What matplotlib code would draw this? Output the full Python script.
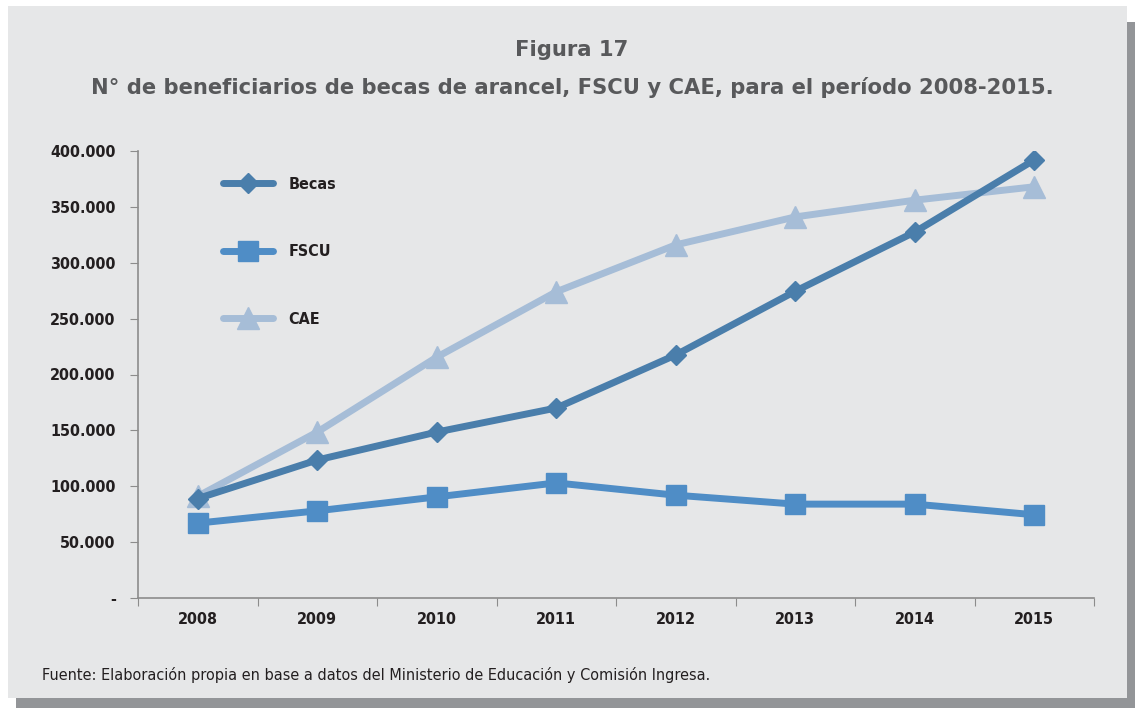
import matplotlib
matplotlib.use("Agg")
import matplotlib.pyplot as plt
from matplotlib.patches import Rectangle

# Datos
years = ["2008", "2009", "2010", "2011", "2012", "2013", "2014", "2015"]
becas = [89000, 123500, 148500, 170000, 217500, 274500, 327500, 392000]
fscu = [67000, 78000, 90500, 103000, 92000, 84000, 84000, 74500]
cae = [91000, 148500, 215500, 274000, 316000, 341000, 356000, 368000]
yticks = [0, 50000, 100000, 150000, 200000, 250000, 300000, 350000, 400000]
ylabels = ["-", "50.000", "100.000", "150.000", "200.000", "250.000",
           "300.000", "350.000", "400.000"]

bg = "#E6E7E8"
W, H = 1135, 708
fig = plt.figure(figsize=(W / 100, H / 100), dpi=100)
fig.patch.set_facecolor("white")

# sombra y tarjeta
fig.patches.append(Rectangle((16 / W, 0), (W - 16) / W, (H - 22) / H,
                             transform=fig.transFigure, facecolor="#939598",
                             edgecolor="none", zorder=-2))
fig.patches.append(Rectangle((8 / W, 10 / H), (1127 - 8) / W, (702 - 10) / H,
                             transform=fig.transFigure, facecolor=bg,
                             edgecolor="none", zorder=-1))

ax = fig.add_axes([138 / W, (H - 598) / H, (1094 - 138) / W, (598 - 151) / H])
ax.set_facecolor(bg)

x = list(range(len(years)))
ax.plot(x, becas, color="#4A7EAB", lw=5, marker="D", ms=10, label="Becas",
        solid_capstyle="round", zorder=3)
ax.plot(x, fscu, color="#4F8DC6", lw=5, marker="s", ms=15, label="FSCU",
        solid_capstyle="round", zorder=3)
ax.plot(x, cae, color="#A6BDD7", lw=5, marker="^", ms=16, label="CAE",
        solid_capstyle="round", zorder=2)

ax.set_xlim(-0.5, len(years) - 0.5)
ax.set_ylim(0, 400000)
ax.set_yticks(yticks)
ax.set_yticklabels(ylabels)
ax.set_xticks([i - 0.5 for i in range(len(years) + 1)])
ax.set_xticklabels([])
ax.set_xticks(x, minor=True)
ax.set_xticklabels(years, minor=True)
ax.tick_params(axis="x", which="minor", length=0, pad=10)
ax.tick_params(axis="x", which="major", length=6, color="#8C8C8C")
ax.tick_params(axis="y", length=6, color="#8C8C8C", pad=10)

# etiquetas en fuente condensada
for lab in ax.get_yticklabels() + ax.get_xticklabels(minor=True):
    lab.set_fontfamily("DejaVu Sans")
    lab.set_fontstretch("condensed")
    lab.set_fontweight("bold")
    lab.set_fontsize(11.5)
    lab.set_color("#231F20")

for s in ["top", "right"]:
    ax.spines[s].set_visible(False)
for s in ["left", "bottom"]:
    ax.spines[s].set_color("#8C8C8C")
    ax.spines[s].set_linewidth(1.2)

leg = ax.legend(loc="upper left", bbox_to_anchor=(0.074, 0.975), frameon=False,
                handlelength=3.1, labelspacing=3.3, handletextpad=1.0,
                prop=dict(family="DejaVu Sans", stretch="condensed",
                          weight="bold", size=11.5))
for t in leg.get_texts():
    t.set_color("#231F20")

fig.text(572 / W, 1 - 50 / H, "Figura 17", ha="center", va="center",
         fontsize=15.2, fontweight="bold", color="#58595B")
fig.text(572 / W, 1 - 87 / H,
         "N° de beneficiarios de becas de arancel, FSCU y CAE, para el período 2008-2015.",
         ha="center", va="center", fontsize=15.2, fontweight="bold",
         color="#58595B")
fig.text(42 / W, 1 - 675 / H,
         "Fuente: Elaboración propia en base a datos del Ministerio de Educación y Comisión Ingresa.",
         ha="left", va="center", fontsize=10.45, color="#231F20")

fig.savefig("out.png", dpi=100, facecolor=fig.get_facecolor())
